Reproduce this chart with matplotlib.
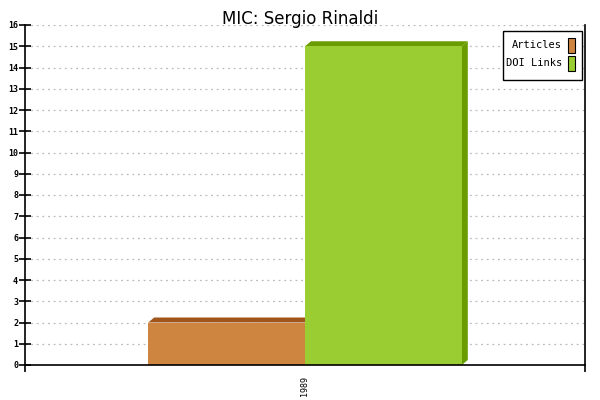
import matplotlib.pyplot as plt
from matplotlib.patches import Polygon, Rectangle

years = ["1989"]
series_names = ["Articles", "DOI Links"]
articles = [2]
doi_links = [15]

face_colors = ["#CD853F", "#9ACD32"]
dark_colors = ["#A0561A", "#6A9C00"]

fig = plt.figure(figsize=(6, 4), dpi=100)
ax = fig.add_axes([25 / 600, 35 / 400, 560 / 600, 340 / 400])

ax.set_xlim(-0.5, 0.5)
ax.set_ylim(0, 16)

bar_w = 0.28
dx = 6 / 560
dy = 5 / 340 * 16

# gridlines
for v in range(1, 17):
    ax.axhline(v, color="#BBBBBB", lw=0.9, dashes=(1.5, 3), zorder=0)


def bar3d(x0, h, face, dark, side=True):
    ax.add_patch(Rectangle((x0, 0), bar_w, h, facecolor=face, edgecolor="none", zorder=2))
    top = [(x0, h), (x0 + dx, h + dy), (x0 + bar_w + dx, h + dy), (x0 + bar_w, h)]
    ax.add_patch(Polygon(top, closed=True, facecolor=dark, edgecolor="none", zorder=1.5))
    if side:
        right = [(x0 + bar_w, 0), (x0 + bar_w + dx, dy), (x0 + bar_w + dx, h + dy), (x0 + bar_w, h)]
        ax.add_patch(Polygon(right, closed=True, facecolor=dark, edgecolor="none", zorder=1.5))


for i, yr in enumerate(years):
    bar3d(i - bar_w, articles[i], face_colors[0], dark_colors[0], side=False)
    bar3d(i, doi_links[i], face_colors[1], dark_colors[1])

ax.spines["top"].set_visible(False)
ax.spines["left"].set_linewidth(1.2)
ax.spines["bottom"].set_linewidth(1.2)
ax.spines["right"].set_linewidth(1.2)

ax.set_yticks(range(0, 17))
ax.tick_params(axis="y", direction="inout", length=8, width=1.2, labelsize=6, pad=1)
for lbl in ax.get_yticklabels():
    lbl.set_family("DejaVu Sans Mono")
    lbl.set_fontweight("bold")

ax.set_xticks([-0.5, 0.5])
ax.set_xticklabels([])
ax.tick_params(axis="x", which="major", direction="out", length=5, width=1.2)
ax.set_xticks(range(len(years)), minor=True)
ax.set_xticklabels(years, minor=True, rotation=90, fontsize=6, family="DejaVu Sans Mono")
ax.tick_params(axis="x", which="minor", length=0, pad=8)

fig.text(0.5, 0.975, "MIC: Sergio Rinaldi", ha="center", va="top", fontsize=12)

# legend box
lx0, ly0, lw, lh = 503 / 600, 1 - 80 / 400, 79 / 600, 49 / 400
fig.patches.append(Rectangle((lx0, ly0), lw, lh, transform=fig.transFigure,
                             facecolor="white", edgecolor="black", lw=1.0, zorder=5))
for k, name in enumerate(series_names):
    yc = 1 - (45.5 + k * 18) / 400
    fig.text(562 / 600, yc, name, ha="right", va="center", fontsize=7.5,
             family="DejaVu Sans Mono", zorder=6)
    fig.patches.append(Rectangle((568 / 600, yc - 7.5 / 400), 7 / 600, 15 / 400,
                                 transform=fig.transFigure, facecolor=face_colors[k],
                                 edgecolor="black", lw=0.8, zorder=6))

fig.savefig("out.png", dpi=100)
